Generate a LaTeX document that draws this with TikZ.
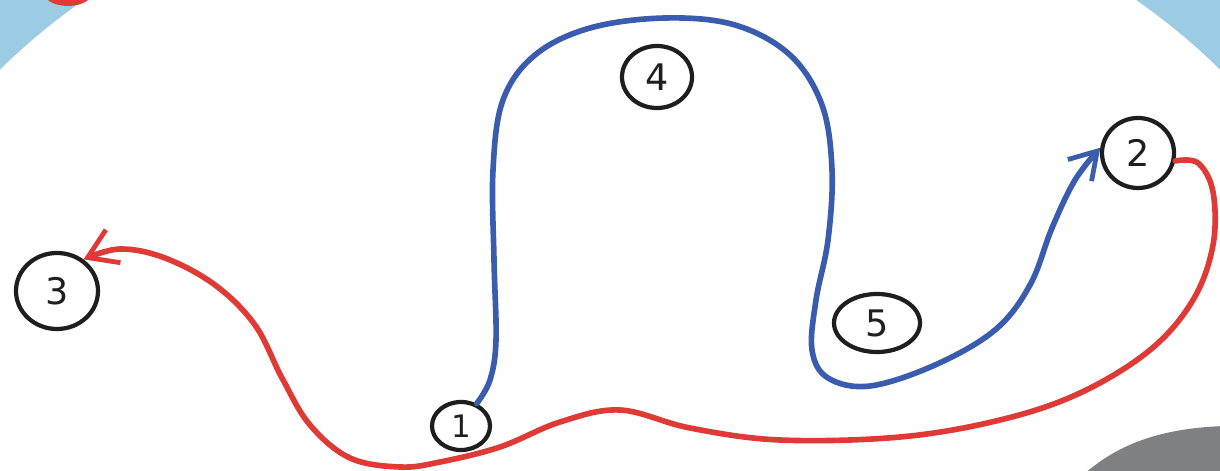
\documentclass[tikz,border=0pt]{standalone}
\usepackage{fontspec}
\setmainfont{DejaVu Sans}
\usetikzlibrary{arrows.meta,shapes.geometric}
\definecolor{bgblue}{HTML}{9CCBE4}
\definecolor{pathblue}{HTML}{3A5CAE}
\definecolor{pathred}{HTML}{E03A36}
\definecolor{darkgray}{HTML}{7F8083}
\definecolor{inkblack}{HTML}{1E1E1E}
\tikzset{
  numnode/.style={ellipse, draw=inkblack, line width=3pt, inner sep=0pt,
    font=\fontsize{26}{26}\selectfont, text=inkblack},
  bluepath/.style={pathblue, line width=4pt, line cap=round, line join=round,
    -{Straight Barb[length=6.5mm,width=8mm,line width=3.4pt]}},
  redpath/.style={pathred, line width=4pt, line cap=round, line join=round,
    -{Straight Barb[length=7mm,width=9mm,line width=3.4pt]}}
}
\begin{document}
\begin{tikzpicture}[x=0.025cm,y=-0.025cm]
\useasboundingbox (0,0) rectangle (1220,471);
% background
\begin{scope}
\clip (0,0) rectangle (1220,471);
\fill[bgblue] (0,0) rectangle (1220,471);
\fill[white] (610,380) ellipse [x radius=750, y radius=533];
\fill[pathred] (68,-10) ellipse [x radius=26, y radius=16];
\fill[darkgray] (1083,475) .. controls (1120,442) and (1165,428) .. (1225,426) -- (1225,475) -- cycle;
\end{scope}
% nodes
\node[numnode, minimum width=2.05cm, minimum height=1.9cm] (n3) at (57,291) {3};
\node[numnode, minimum width=1.45cm, minimum height=1.2cm, font=\fontsize{22}{22}\selectfont] (n1) at (461,426) {1};
\node[numnode, minimum width=1.75cm, minimum height=1.55cm] (n4) at (657,77) {4};
\node[numnode, minimum width=2.15cm, minimum height=1.45cm] (n5) at (877,323) {5};
\node[numnode, minimum width=1.8cm, minimum height=1.75cm] (n2) at (1138,153) {2};
% connectors
\draw[bluepath] plot[smooth, tension=0.6] coordinates {
  (n1.55) (490,380) (496,340) (494,260) (493,170) (503,100) (535,55) (590,28)
  (665,18) (735,25) (790,55) (822,105) (832,170) (828,240) (816,300)
  (812,350) (828,378) (870,386) (935,365) (995,330) (1030,285) (1052,228)
  (1075,180) (n2.172)};
\draw[redpath] plot[smooth, tension=0.6] coordinates {
  (n2.-12) (1198,163) (1213,192) (1213,245) (1193,300) (1150,350) (1080,393)
  (1000,420) (900,437) (780,440) (690,428) (620,410) (560,422) (500,447)
  (440,462) (400,467) (350,458) (310,425) (282,378) (255,325) (215,285)
  (165,258) (120,249) (n3.50)};
\end{tikzpicture}
\end{document}
